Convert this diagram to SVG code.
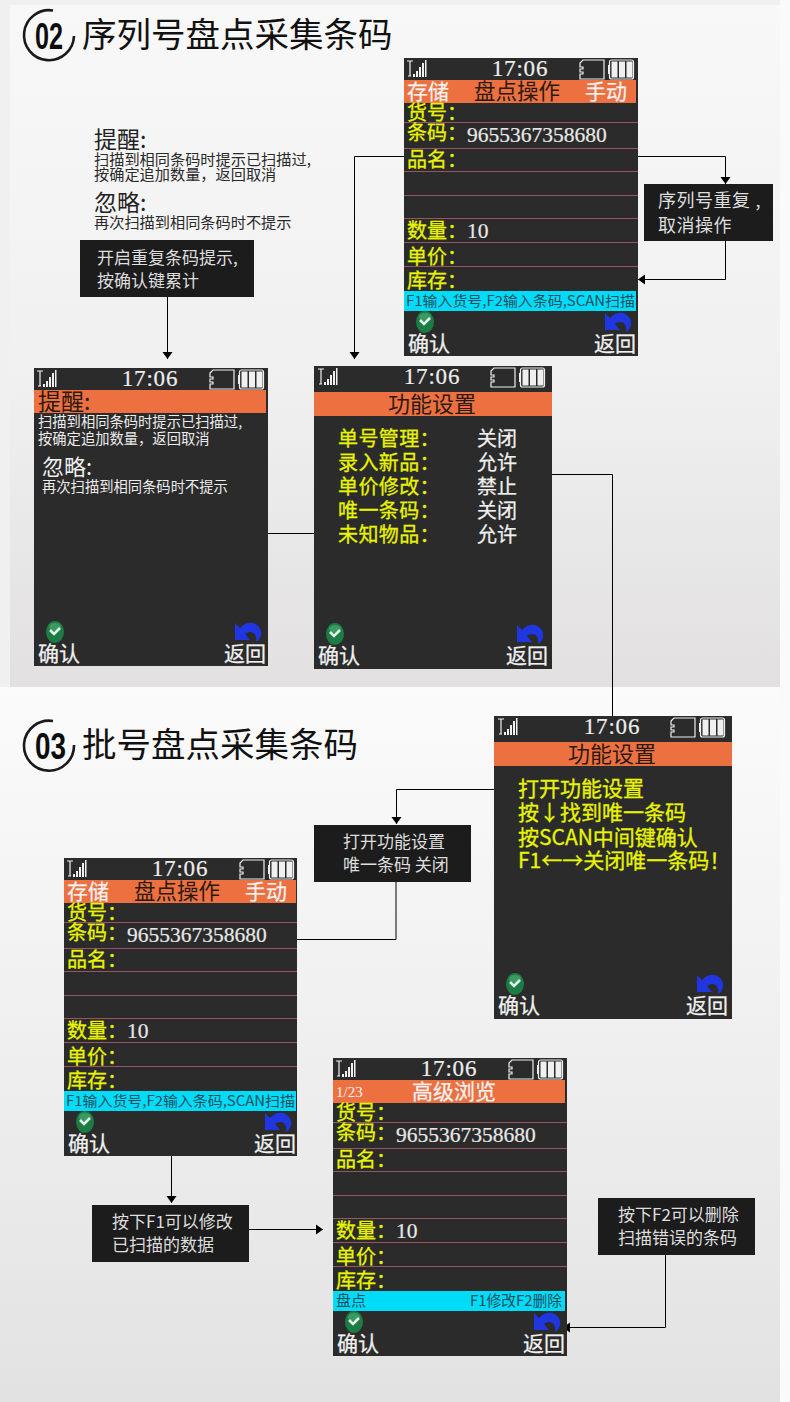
<svg xmlns="http://www.w3.org/2000/svg" width="790" height="1402" viewBox="0 0 790 1402">
<style>
text{font-family:"Noto Sans CJK SC","Liberation Sans",sans-serif}
.scr{fill:#2b2b2b}
.hdr{fill:#ec7040}
.cy{fill:#00dcf8}
.rule{stroke:#9a5560;stroke-width:1}
.lb{font-size:20px;fill:#e8f400;stroke:#e8f400;stroke-width:.3px;font-family:"Noto Sans CJK SC",sans-serif}
.num{font-size:21.5px;fill:#e8e8e8;stroke:#e8e8e8;stroke-width:.2px;font-family:"Liberation Serif","Noto Sans CJK SC",serif}
.tm{font-size:23px;fill:#eee;stroke:#eee;stroke-width:.2px;text-anchor:middle;letter-spacing:.8px;font-family:"Liberation Serif",serif}
.wh{font-size:21px;fill:#f0f0f0;stroke:#f0f0f0;stroke-width:.25px}
.hw{font-size:21px;fill:#f2f2f2;stroke:#f2f2f2;stroke-width:.25px}
.hd{font-size:21.5px;fill:#2a1a12}
.tip{font-size:14.3px;fill:#ececec}
.cyt{font-size:14px;fill:#1d4d60}
.cal{fill:#1c1c1c}
.ct{font-size:17px;fill:#dedede}
.dk{font-size:15.2px;fill:#2a2a2a}
.dh{font-size:23px;fill:#222}
.ttl{font-size:34.5px;fill:#111}
.num2{font-family:"Liberation Sans",sans-serif;font-size:36px;font-weight:700;fill:#0c0c0c}
.ln{fill:none;stroke:#000;stroke-width:1}
.ring{fill:none;stroke:#1a1a1a;stroke-width:2.6}
.ic{fill:none;stroke:#f0f0f0;stroke-width:1.2}
</style>
<defs>
<linearGradient id="bgA" x1="0" y1="0" x2="0" y2="1"><stop offset="0" stop-color="#f8f8f8"/><stop offset=".55" stop-color="#f0f0f0"/><stop offset="1" stop-color="#e2e0e0"/></linearGradient>
<linearGradient id="bgB" x1="0" y1="0" x2="0" y2="1"><stop offset="0" stop-color="#fbfbfb"/><stop offset=".5" stop-color="#efefef"/><stop offset="1" stop-color="#e2e2e2"/></linearGradient>
<marker id="ah" markerUnits="userSpaceOnUse" markerWidth="8" markerHeight="12" refX="7" refY="5.500" orient="auto"><path d="M0 .5L7 5.500L0 10.500Z" fill="#000"/></marker>
<g id="status">
<path class="ic" d="M3 3h6M6 3v15M4 18h3"/>
<path fill="#f0f0f0" d="M9 16h2v3H9zM12 13h2v6H12zM15 9h2v10H15zM18 5h2v14H18zM21 2h1.500v17H21z"/>
<path class="ic" d="M176 5l3-3h21v19h-24v-5h3v-2h-3v-3h3v-2h-3z"/>
<rect class="ic" x="205.500" y="2" width="24" height="19" rx="2"/>
<path fill="#f0f0f0" d="M207.500 3.500h6v16h-6zM215 3.500h6v16h-6zM222.500 3.500h6v16h-6zM204 7h1.500v9H204z"/>
</g>
<g id="okic"><ellipse rx="9" ry="11" fill="#1c7c44"/><ellipse cy="-5" rx="6" ry="4" fill="#3a9a62"/><path d="M-5 -2l4 4 6-6" fill="none" stroke="#dff4ea" stroke-width="2.600"/></g>
<path id="bkic" d="M0 1L5 6C9 1 14 0 18 1C24 3 27 8 26 13C25 17 23 19 21 20C22 15 20 10 15 10C13 10 11 11 10 12L15 18H0Z" fill="#2036e0"/>
</defs>

<rect width="790" height="1402" fill="#f0f0f0"/>
<rect x="780" width="10" height="1402" fill="#fafafa"/>
<rect x="10" y="5" width="770" height="682" fill="url(#bgA)"/>
<rect x="0" y="687" width="780" height="715" fill="url(#bgB)"/>

<g id="title02">
<path class="ring" d="M53 10.500A25 25 0 1 0 74 36"/>
<text class="num2" x="35" y="49" textLength="28" lengthAdjust="spacingAndGlyphs">02</text>
<text class="ttl" x="82" y="47">序列号盘点采集条码</text>
</g>
<g id="title03">
<path class="ring" d="M53 721A25 25 0 1 0 74 745"/>
<text class="num2" x="35" y="759" textLength="31" lengthAdjust="spacingAndGlyphs">03</text>
<text class="ttl" x="82" y="757">批号盘点采集条码</text>
</g>

<g id="legend">
<text class="dh" x="94" y="148">提醒:</text>
<text class="dk" x="94" y="165">扫描到相同条码时提示已扫描过,</text>
<text class="dk" x="94" y="180">按确定追加数量，返回取消</text>
<text class="dh" x="94" y="211">忽略:</text>
<text class="dk" x="94" y="228">再次扫描到相同条码时不提示</text>
</g>

<g id="connectors">
<path class="ln" d="M638 156.500H725.500V184" marker-end="url(#ah)"/>
<path class="ln" d="M725.500 241V279.500H638" marker-end="url(#ah)"/>
<path class="ln" d="M404 156.500H354.500V359" marker-end="url(#ah)"/>
<path class="ln" d="M167.500 297V359" marker-end="url(#ah)"/>
<path class="ln" d="M268 533.500H314"/>
<path class="ln" d="M552 474.500H612.500V716"/>
<path class="ln" d="M494 789.500H396.500V824" marker-end="url(#ah)"/>
<path class="ln" d="M396 882V939.500H297"/>
<path class="ln" d="M171.500 1156V1203" marker-end="url(#ah)"/>
<path class="ln" d="M249 1229.500H323" marker-end="url(#ah)"/>
<path class="ln" d="M665.500 1255V1327.500H563" marker-end="url(#ah)"/>
</g>

<g id="phone-a" transform="translate(404 58)">
<rect class="scr" width="234" height="298"/>
<use href="#status"/>
<text class="tm" x="116" y="18">17:06</text>
<rect class="hdr" y="22" width="232" height="23"/>
<text class="hw" x="3" y="41">存储</text><text class="hd" x="70" y="41">盘点操作</text><text class="hw" x="181" y="41">手动</text>
<path class="rule" d="M0 64.500h234M0 90.500h234M0 113.500h234M0 137.500h234M0 160.500h234M0 184.500h234M0 208.500h234"/>
<text class="lb" x="3" y="62">货号：</text>
<text class="lb" x="3" y="82">条码：</text><text class="num" x="63" y="84">9655367358680</text>
<text class="lb" x="3" y="109">品名：</text>
<text class="lb" x="3" y="180">数量：</text><text class="num" x="63" y="180">10</text>
<text class="lb" x="3" y="206">单价：</text>
<text class="lb" x="3" y="230">库存：</text>
<rect class="cy" y="233" width="232" height="20"/>
<text class="cyt" x="2" y="248" textLength="229" lengthAdjust="spacingAndGlyphs">F1输入货号,F2输入条码,SCAN扫描</text>
<use href="#okic" x="21" y="264"/><use href="#bkic" x="201" y="254"/>
<text class="wh" x="4" y="293">确认</text><text class="wh" x="190" y="293">返回</text>
</g>

<g id="phone-b1" transform="translate(34 368)">
<rect class="scr" width="234" height="298"/>
<use href="#status"/>
<text class="tm" x="116" y="18">17:06</text>
<rect class="hdr" y="22" width="232" height="23"/>
<text class="hd" style="font-size:23px" x="4" y="42">提醒:</text>
<text class="tip" x="4" y="59">扫描到相同条码时提示已扫描过,</text>
<text class="tip" x="4" y="76">按确定追加数量，返回取消</text>
<text style="font-size:22px;fill:#f0f0f0" x="8" y="107">忽略:</text>
<text class="tip" x="8" y="124">再次扫描到相同条码时不提示</text>
<use href="#okic" x="21" y="264"/><use href="#bkic" x="201" y="254"/>
<text class="wh" x="4" y="293">确认</text><text class="wh" x="190" y="293">返回</text>
</g>

<g id="phone-b2" transform="translate(314 366)">
<rect class="scr" width="238" height="303"/>
<use href="#status" x="1"/>
<text class="tm" x="118" y="18">17:06</text>
<rect class="hdr" y="26" width="238" height="24"/>
<text class="hd" style="font-size:22px" x="74" y="46">功能设置</text>
<text class="lb" x="24" y="80" letter-spacing=".4">单号管理：</text><text class="lb" x="24" y="104" letter-spacing=".4">录入新品：</text><text class="lb" x="24" y="128" letter-spacing=".4">单价修改：</text><text class="lb" x="24" y="152" letter-spacing=".4">唯一条码：</text><text class="lb" x="24" y="176" letter-spacing=".4">未知物品：</text>
<text class="wh" style="font-size:20px" x="163" y="80">关闭</text><text class="wh" style="font-size:20px" x="163" y="104">允许</text><text class="wh" style="font-size:20px" x="163" y="128">禁止</text><text class="wh" style="font-size:20px" x="163" y="152">关闭</text><text class="wh" style="font-size:20px" x="163" y="176">允许</text>
<use href="#okic" x="21" y="268"/><use href="#bkic" x="203" y="258"/>
<text class="wh" x="4" y="297">确认</text><text class="wh" x="192" y="297">返回</text>
</g>

<g id="phone-e" transform="translate(494 716)">
<rect class="scr" width="238" height="303"/>
<use href="#status" x="1"/>
<text class="tm" x="118" y="18">17:06</text>
<rect class="hdr" y="26" width="238" height="24"/>
<text class="hd" style="font-size:22px" x="74" y="46">功能设置</text>
<text class="lb" style="font-size:21px" x="24" y="80">打开功能设置</text>
<text class="lb" style="font-size:21px" x="24" y="104">按↓找到唯一条码</text>
<text class="lb" style="font-size:21px" x="24" y="129">按SCAN中间键确认</text>
<text class="lb" style="font-size:21px" x="24" y="152">F1←→关闭唯一条码！</text>
<use href="#okic" x="21" y="268"/><use href="#bkic" x="203" y="258"/>
<text class="wh" x="4" y="297">确认</text><text class="wh" x="192" y="297">返回</text>
</g>

<g id="phone-c" transform="translate(64 858)">
<rect class="scr" width="233" height="298"/>
<use href="#status"/>
<text class="tm" x="116" y="18">17:06</text>
<rect class="hdr" y="22" width="232" height="23"/>
<text class="hw" x="3" y="41">存储</text><text class="hd" x="70" y="41">盘点操作</text><text class="hw" x="181" y="41">手动</text>
<path class="rule" d="M0 64.500h233M0 90.500h233M0 113.500h233M0 137.500h233M0 160.500h233M0 184.500h233M0 208.500h233"/>
<text class="lb" x="3" y="62">货号：</text>
<text class="lb" x="3" y="82">条码：</text><text class="num" x="63" y="84">9655367358680</text>
<text class="lb" x="3" y="109">品名：</text>
<text class="lb" x="3" y="180">数量：</text><text class="num" x="63" y="180">10</text>
<text class="lb" x="3" y="206">单价：</text>
<text class="lb" x="3" y="230">库存：</text>
<rect class="cy" y="233" width="232" height="20"/>
<text class="cyt" x="2" y="248" textLength="229" lengthAdjust="spacingAndGlyphs">F1输入货号,F2输入条码,SCAN扫描</text>
<use href="#okic" x="21" y="264"/><use href="#bkic" x="201" y="254"/>
<text class="wh" x="4" y="293">确认</text><text class="wh" x="190" y="293">返回</text>
</g>

<g id="phone-d" transform="translate(333 1058)">
<rect class="scr" width="234" height="298"/>
<use href="#status"/>
<text class="tm" x="116" y="18">17:06</text>
<rect class="hdr" y="22" width="232" height="23"/>
<text class="num" style="font-size:15px;fill:#f4f4f4;stroke:none" x="3" y="39">1/23</text><text class="hw" x="79" y="41">高级浏览</text>
<path class="rule" d="M0 64.500h234M0 90.500h234M0 113.500h234M0 137.500h234M0 160.500h234M0 184.500h234M0 208.500h234"/>
<text class="lb" x="3" y="62">货号：</text>
<text class="lb" x="3" y="82">条码：</text><text class="num" x="63" y="84">9655367358680</text>
<text class="lb" x="3" y="109">品名：</text>
<text class="lb" x="3" y="180">数量：</text><text class="num" x="63" y="180">10</text>
<text class="lb" x="3" y="206">单价：</text>
<text class="lb" x="3" y="230">库存：</text>
<rect class="cy" y="233" width="232" height="20"/>
<text class="cyt" style="font-size:15px" x="3" y="248">盘点</text><text class="cyt" style="font-size:15px" x="137" y="248" textLength="92" lengthAdjust="spacingAndGlyphs">F1修改F2删除</text>
<use href="#okic" x="21" y="264"/><use href="#bkic" x="201" y="254"/>
<text class="wh" x="4" y="293">确认</text><text class="wh" x="190" y="293">返回</text>
</g>

<g id="note-dup"><rect class="cal" x="644" y="184" width="129" height="57"/><text class="ct" style="font-size:18px" letter-spacing=".5" x="658" y="207">序列号重复<tspan dx="5">,</tspan></text><text class="ct" style="font-size:18px" letter-spacing=".5" x="658" y="232">取消操作</text></g>
<g id="note-repeat"><rect class="cal" x="80" y="240" width="174" height="57"/><text class="ct" x="97" y="264">开启重复条码提示,</text><text class="ct" x="97" y="287">按确认键累计</text></g>
<g id="note-open"><rect class="cal" x="314" y="825" width="157" height="57"/><text class="ct" x="343" y="848">打开功能设置</text><text class="ct" x="343" y="871">唯一条码 关闭</text></g>
<g id="note-f1"><rect class="cal" x="92" y="1205" width="157" height="57"/><text class="ct" x="112" y="1228">按下F1可以修改</text><text class="ct" x="112" y="1251">已扫描的数据</text></g>
<g id="note-f2"><rect class="cal" x="598" y="1198" width="157" height="57"/><text class="ct" x="618" y="1221">按下F2可以删除</text><text class="ct" x="618" y="1244">扫描错误的条码</text></g>
</svg>
